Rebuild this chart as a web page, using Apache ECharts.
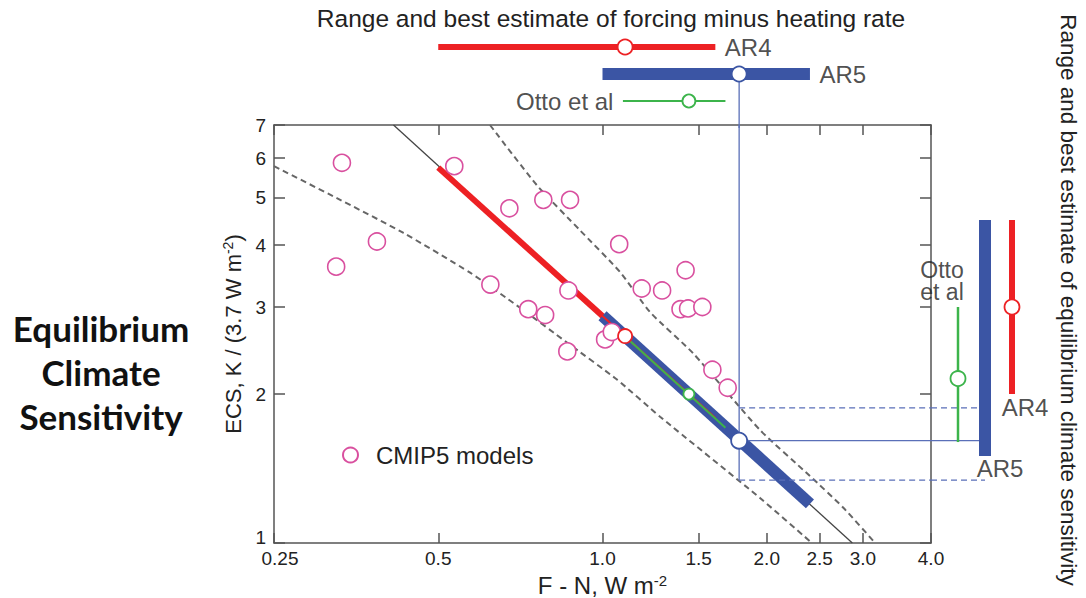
<!DOCTYPE html>
<html><head><meta charset="utf-8">
<script src="https://cdn.jsdelivr.net/npm/echarts@6/dist/echarts.min.js"></script>
<style>html,body{margin:0;padding:0;background:#fff}#c{width:1086px;height:598px}</style>
</head><body><div id="c"></div>
<script>
// ---------- data ----------
const FN_TICKS = [0.25, 0.5, 1.0, 1.5, 2.0, 2.5, 3.0, 4.0];
const FN_TICK_LABELS = ['0.25', '0.5', '1.0', '1.5', '2.0', '2.5', '3.0', '4.0'];
const ECS_TICKS = [1, 2, 3, 4, 5, 6, 7];

const CMIP5_FN  = [0.333, 0.325, 0.386, 0.535, 0.675, 0.779, 0.872, 0.623, 0.866, 0.731, 0.785, 0.862, 1.073, 1.18, 1.286, 1.42, 1.39, 1.435, 1.524, 1.011, 1.04, 1.59, 1.696];
const CMIP5_ECS = [5.87, 3.62, 4.07, 5.78, 4.75, 4.94, 4.94, 3.33, 3.24, 2.97, 2.89, 2.44, 4.02, 3.27, 3.24, 3.56, 2.97, 2.98, 3.0, 2.58, 2.67, 2.24, 2.06];

// central relation line and its dashed bounds
const BEST_LINE_FN  = [0.414, 2.87];
const BEST_LINE_ECS = [7.0, 1.0];
const LOWER_FN  = [0.25, 0.326, 0.431, 0.572, 0.706, 0.862, 1.063, 1.275, 1.944, 2.42];
const LOWER_ECS = [5.78, 4.98, 4.24, 3.52, 2.99, 2.54, 2.14, 1.80, 1.233, 1.0];
const UPPER_FN  = [0.622, 0.758, 0.909, 1.077, 1.222, 1.465, 1.944, 2.40, 2.76, 3.16];
const UPPER_ECS = [7.0, 5.29, 4.29, 3.53, 2.93, 2.42, 1.692, 1.366, 1.18, 1.0];

// estimates
const ESTIMATES = ['AR4', 'AR5', 'Otto et al'];
const FN_LOW  = [0.5, 1.0, 1.09];
const FN_BEST = [1.1, 1.78, 1.44];
const FN_HIGH = [1.61, 2.4, 1.68];
const ECS_LOW  = [2.0, 1.5, 1.6];
const ECS_BEST = [3.0, null, 2.15];
const ECS_HIGH = [4.5, 4.5, 3.0];
// ECS values on the central line at the forcing range ends / best
const ECS_AT_FN_LOW  = [5.74, 2.88, 2.64];
const ECS_AT_FN_BEST = [2.62, 1.61, 2.0];
const ECS_AT_FN_HIGH = [1.79, 1.2, 1.71];
// AR5-derived ECS guide levels
const AR5_ECS_GUIDE = 1.61;
const AR5_ECS_GUIDE_LOW = 1.34;
const AR5_ECS_GUIDE_HIGH = 1.875;

// ---------- styles ----------
const FONT = '"Liberation Sans", Arial, Helvetica, sans-serif';
const RED = '#ed2124', BLUE = '#3b55a4', GREEN = '#3cb44b', PINK = '#d9509f', GUIDE = '#5a6fb8';
const EST_COLOR = [RED, BLUE, GREEN];
const EST_WIDTH = [6, 12, 2];
const TOP_DOT = [15, 15, 13];
const LINE_DOT = [14, 16, 11];

const L = v => Math.log10(v);
const pts = (xs, ys) => xs.map((x, i) => [L(x), L(ys[i])]);
const pos = i => ESTIMATES.length - i;

const fmtX = v => {
  const i = FN_TICKS.findIndex(t => Math.abs(L(t) - v) < 1e-9);
  if (i < 0) return '';
  return i === 0 ? '{first|' + FN_TICK_LABELS[i] + '}' : FN_TICK_LABELS[i];
};
const fmtY = v => {
  const s = String(Math.round(Math.pow(10, v)));
  return Math.abs(v) < 1e-9 ? '{first|' + s + '}' : s;
};

const frameLine = { show: true, onZero: false, lineStyle: { color: '#555', width: 1.5 } };
const tickX = { show: true, inside: true, length: 10, customValues: FN_TICKS.map(L), lineStyle: { color: '#555', width: 1.5 } };
const tickY = { show: true, inside: true, length: 11, customValues: ECS_TICKS.map(L), lineStyle: { color: '#555', width: 1.5 } };

const series = [];
const base = { silent: true, animation: false };
const line = (data, style, extra) => Object.assign({ type: 'line', data, symbol: 'none', lineStyle: style, z: 2 }, base, extra || {});
const dotStyle = c => ({ color: '#ffffff', borderColor: c, borderWidth: 1.8, opacity: 1 });

// main grid
series.push(line(pts(LOWER_FN, LOWER_ECS), { color: '#666', width: 2, type: [6, 4] }, { smooth: 0.2 }));
series.push(line(pts(UPPER_FN, UPPER_ECS), { color: '#666', width: 2, type: [6, 4] }, { smooth: 0.2 }));
series.push(line(pts(BEST_LINE_FN, BEST_LINE_ECS), { color: '#444', width: 1.3 }));
const onLine = i => [[L(FN_LOW[i]), L(ECS_AT_FN_LOW[i])], [L(FN_HIGH[i]), L(ECS_AT_FN_HIGH[i])]];
series.push(line(onLine(0), { color: RED, width: 6 }));
series.push(line(onLine(1), { color: BLUE, width: 12 }));
series.push(line(onLine(0), { color: RED, width: 2 }));
series.push(line(onLine(2), { color: GREEN, width: 2 }));
// AR5 guides
const gx = L(FN_BEST[1]);
series.push(line([[gx, L(7)], [gx, L(AR5_ECS_GUIDE_LOW)]], { color: GUIDE, width: 1.3 }));
series.push(line([[gx, L(AR5_ECS_GUIDE)], [L(4), L(AR5_ECS_GUIDE)]], { color: GUIDE, width: 1.3 }));
series.push(line([[gx, L(AR5_ECS_GUIDE_HIGH)], [L(4), L(AR5_ECS_GUIDE_HIGH)]], { color: GUIDE, width: 1.3, type: [6, 4] }));
series.push(line([[gx, L(AR5_ECS_GUIDE_LOW)], [L(4), L(AR5_ECS_GUIDE_LOW)]], { color: GUIDE, width: 1.3, type: [6, 4] }));
// CMIP5 models
series.push(Object.assign({
  type: 'scatter', name: 'CMIP5 models', data: pts(CMIP5_FN, CMIP5_ECS), symbol: 'circle', symbolSize: 17, z: 5,
  itemStyle: { color: '#ffffff', borderColor: PINK, borderWidth: 1.6, opacity: 1 }
}, base));
// best estimate dots on the line
series.push(Object.assign({
  type: 'scatter', z: 10, data: ESTIMATES.map((e, i) => ({
    value: [L(FN_BEST[i]), L(ECS_AT_FN_BEST[i])], symbolSize: LINE_DOT[i], itemStyle: dotStyle(EST_COLOR[i])
  }))
}, base));

// top panel (forcing minus heating rate)
ESTIMATES.forEach((e, i) => {
  series.push(line([[L(FN_LOW[i]), pos(i)], [L(FN_HIGH[i]), pos(i)]], { color: EST_COLOR[i], width: EST_WIDTH[i] }, { xAxisIndex: 2, yAxisIndex: 2 }));
});
series.push(line([[gx, pos(1)], [gx, 0]], { color: GUIDE, width: 1.3 }, { xAxisIndex: 2, yAxisIndex: 2 }));
series.push(Object.assign({
  type: 'scatter', xAxisIndex: 2, yAxisIndex: 2, z: 10,
  data: ESTIMATES.map((e, i) => ({ value: [L(FN_BEST[i]), pos(i)], symbolSize: TOP_DOT[i], itemStyle: dotStyle(EST_COLOR[i]) }))
}, base));
series.push(Object.assign({
  type: 'scatter', xAxisIndex: 2, yAxisIndex: 2, symbolSize: 1, z: 10, itemStyle: { color: 'rgba(0,0,0,0)' },
  data: ESTIMATES.map((e, i) => {
    const left = i === 2;
    return {
      value: [L(left ? FN_LOW[i] : FN_HIGH[i]), pos(i)],
      label: { show: true, formatter: e, position: left ? 'left' : 'right', distance: 9, fontSize: 24, color: '#222', fontFamily: FONT }
    };
  })
}, base));

// right panel (equilibrium climate sensitivity)
series.push(line([[0, L(AR5_ECS_GUIDE)], [pos(1), L(AR5_ECS_GUIDE)]], { color: GUIDE, width: 1.3 }, { xAxisIndex: 3, yAxisIndex: 3 }));
series.push(line([[0, L(AR5_ECS_GUIDE_HIGH)], [pos(1), L(AR5_ECS_GUIDE_HIGH)]], { color: GUIDE, width: 1.3, type: [6, 4] }, { xAxisIndex: 3, yAxisIndex: 3 }));
series.push(line([[0, L(AR5_ECS_GUIDE_LOW)], [pos(1), L(AR5_ECS_GUIDE_LOW)]], { color: GUIDE, width: 1.3, type: [6, 4] }, { xAxisIndex: 3, yAxisIndex: 3 }));
ESTIMATES.forEach((e, i) => {
  series.push(line([[pos(i), L(ECS_LOW[i])], [pos(i), L(ECS_HIGH[i])]], { color: EST_COLOR[i], width: EST_WIDTH[i] === 2 ? 2.5 : EST_WIDTH[i] }, { xAxisIndex: 3, yAxisIndex: 3 }));
});
series.push(Object.assign({
  type: 'scatter', xAxisIndex: 3, yAxisIndex: 3, z: 10,
  data: ESTIMATES.map((e, i) => ECS_BEST[i] == null ? null : ({ value: [pos(i), L(ECS_BEST[i])], symbolSize: 15, itemStyle: dotStyle(EST_COLOR[i]) })).filter(d => d)
}, base));
series.push(Object.assign({
  type: 'scatter', xAxisIndex: 3, yAxisIndex: 3, symbolSize: 1, z: 10, itemStyle: { color: 'rgba(0,0,0,0)' },
  data: [
    { value: [pos(2), L(ECS_HIGH[2])], label: { show: true, formatter: ESTIMATES[2].replace(' ', '\n'), position: 'top', distance: 4, offset: [-16, 0], lineHeight: 22, align: 'center', fontSize: 23, color: '#222', fontFamily: FONT } },
    { value: [pos(0), L(ECS_LOW[0])], label: { show: true, formatter: ESTIMATES[0], position: 'bottom', distance: 1, offset: [13, 0], fontSize: 24, color: '#222', fontFamily: FONT } },
    { value: [pos(1), L(ECS_LOW[1])], label: { show: true, formatter: ESTIMATES[1], position: 'bottom', distance: 0, offset: [15, 0], fontSize: 24, color: '#222', fontFamily: FONT } }
  ]
}, base));

const chart = echarts.init(document.getElementById('c'), null, { renderer: 'svg' });
chart.setOption({
  animation: false,
  backgroundColor: '#fff',
  grid: [
    { left: 274, top: 125, width: 657, height: 418, containLabel: false, outerBoundsMode: 'none' },
    { left: 274, top: 20, width: 657, height: 108, containLabel: false, outerBoundsMode: 'none' },
    { left: 931, top: 125, width: 108, height: 418, containLabel: false, outerBoundsMode: 'none' }
  ],
  xAxis: [
    { gridIndex: 0, type: 'value', position: 'bottom', min: L(0.25), max: L(4), axisLine: frameLine, axisTick: tickX,
      axisLabel: { show: true, customValues: FN_TICKS.map(L), formatter: fmtX, fontSize: 19, color: '#222', margin: 6, fontFamily: FONT,
        rich: { first: { fontSize: 19, color: '#222', fontFamily: FONT, padding: [0, 0, 0, 12] } } },
      splitLine: { show: false },
      name: '{n|F - N, W m}{s|-2}', nameLocation: 'middle', nameGap: 14,
      nameTextStyle: { rich: { n: { fontSize: 24, lineHeight: 26, color: '#222', fontFamily: FONT }, s: { fontSize: 15, lineHeight: 16, verticalAlign: 'top', color: '#222', fontFamily: FONT } } } },
    { gridIndex: 0, type: 'value', position: 'top', min: L(0.25), max: L(4), axisLine: frameLine, axisTick: tickX, axisLabel: { show: false }, splitLine: { show: false } },
    { gridIndex: 1, type: 'value', min: L(0.25), max: L(4), show: false },
    { gridIndex: 2, type: 'value', min: 0, max: 4, show: false }
  ],
  yAxis: [
    { gridIndex: 0, type: 'value', position: 'left', min: 0, max: L(7), axisLine: frameLine, axisTick: tickY,
      axisLabel: { show: true, customValues: ECS_TICKS.map(L), formatter: fmtY, fontSize: 19, color: '#222', margin: 8, fontFamily: FONT,
        rich: { first: { fontSize: 19, color: '#222', fontFamily: FONT, padding: [0, 0, 12, 0] } } },
      splitLine: { show: false },
      name: '{n|ECS, K / (3.7 W m}{s|-2}{n|)}', nameLocation: 'middle', nameGap: 8,
      nameTextStyle: { rich: { n: { fontSize: 22, lineHeight: 26, color: '#222', fontFamily: FONT }, s: { fontSize: 14, lineHeight: 15, verticalAlign: 'top', color: '#222', fontFamily: FONT } } } },
    { gridIndex: 0, type: 'value', position: 'right', min: 0, max: L(7), axisLine: frameLine, axisTick: tickY, axisLabel: { show: false }, splitLine: { show: false } },
    { gridIndex: 1, type: 'value', min: 0, max: 4, show: false },
    { gridIndex: 2, type: 'value', min: 0, max: L(7), show: false }
  ],
  legend: {
    show: true, left: 342, top: 443, padding: 0, itemWidth: 15, itemHeight: 15, selectedMode: false,
    data: ['CMIP5 models'], textStyle: { fontSize: 24, color: '#222', fontFamily: FONT, padding: [0, 0, 0, 13] }
  },
  graphic: [
    { type: 'text', x: 611, y: 18, silent: true,
      style: { text: 'Range and best estimate of forcing minus heating rate', fontSize: 24.5, fontFamily: FONT, fill: '#222', align: 'center', verticalAlign: 'middle' } },
    { type: 'text', x: 1068, y: 300, rotation: -Math.PI / 2, silent: true,
      style: { text: 'Range and best estimate of equilibrium climate sensitivity', fontSize: 22.5, fontFamily: FONT, fill: '#222', align: 'center', verticalAlign: 'middle' } },
    { type: 'text', x: 101, y: 372, silent: true,
      style: { text: 'Equilibrium\nClimate\nSensitivity', fontSize: 35, fontWeight: 'bold', lineHeight: 44, fontFamily: 'Lato, "Open Sans", sans-serif', fill: '#111', align: 'center', verticalAlign: 'middle' } }
  ],
  series
});
</script></body></html>
